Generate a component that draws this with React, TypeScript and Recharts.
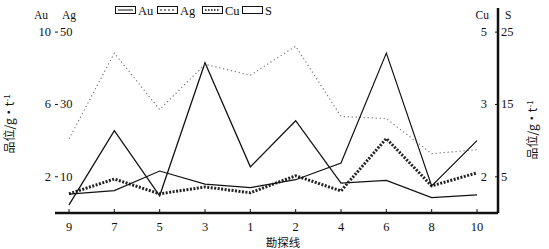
import React from 'react';
import { LineChart, Line, XAxis, YAxis, Legend } from 'recharts';

// 勘探线 order as drawn along the x axis
const lines = ['9', '7', '5', '3', '1', '2', '4', '6', '8', '10'];

const au = [0.45, 4.55, 0.95, 8.3, 2.55, 5.1, 1.65, 1.8, 0.85, 1.0];
const ag = [20.5, 44.2, 28.6, 41.1, 38.1, 46.1, 26.7, 26.1, 16.4, 17.5];
const cu = [0.53, 0.94, 0.53, 0.72, 0.56, 1.03, 0.61, 2.06, 0.75, 1.11];
const s = [2.6, 3.1, 5.8, 4.0, 3.5, 4.6, 6.9, 22.1, 3.75, 10.0];

const auTicks = [2, 6, 10];
const agTickLabels = ['10', '30', '50'];
const cuTicks = [1, 3, 5];
const cuTickLabels = ['2', '3', '5'];
const sTickLabels = ['5', '15', '25'];

const seriesOrder = ['Au', 'Ag', 'Cu', 'S'];

const data = lines.map((name, i) => ({ name, Au: au[i], Ag: ag[i], Cu: cu[i], S: s[i] }));

const W = 549;
const H = 249;
const LEFT = 55;
const RIGHT = 498;
const SERIF = '"Liberation Serif", "DejaVu Serif", serif';
const CJK = '"Noto Sans CJK SC", sans-serif';

const LeftTick = (props: any) => {
  const { y, payload } = props;
  const i = auTicks.indexOf(payload.value);
  return (
    <g fontFamily={SERIF} fontSize={12.5} fill="#111">
      <text x={LEFT - 4} y={y + 4} textAnchor="end">{payload.value}</text>
      <line x1={LEFT} x2={LEFT + 3} y1={y} y2={y} stroke="#111" />
      <text x={LEFT + 5} y={y + 4} textAnchor="start">{agTickLabels[i]}</text>
    </g>
  );
};

const RightTick = (props: any) => {
  const { y, payload } = props;
  const i = cuTicks.indexOf(payload.value);
  return (
    <g fontFamily={SERIF} fontSize={12.5} fill="#111">
      <text x={RIGHT - 11} y={y + 4} textAnchor="end">{cuTickLabels[i]}</text>
      <line x1={RIGHT - 3} x2={RIGHT} y1={y} y2={y} stroke="#111" />
      <text x={RIGHT + 3} y={y + 4} textAnchor="start">{sTickLabels[i]}</text>
    </g>
  );
};

const BottomTick = (props: any) => {
  const { x, y, payload } = props;
  return (
    <g>
      <line x1={x} x2={x} y1={y - 4} y2={y - 1} stroke="#111" />
      <text x={x} y={y + 18} textAnchor="middle" fontFamily={SERIF} fontSize={12.5} fill="#111">
        {payload.value}
      </text>
    </g>
  );
};

const YTitle = ({ x, y }: { x: number; y: number }) => (
  <text
    transform={`translate(${x},${y}) rotate(-90)`}
    textAnchor="middle"
    fontFamily={CJK}
    fontSize={12}
    fill="#111"
  >
    品位/g·t
    <tspan fontSize={8} dy={-4}>-1</tspan>
  </text>
);

const LeftLabel = () => (
  <g fill="#111">
    <text x={48} y={19} textAnchor="end" fontFamily={SERIF} fontSize={11.5}>Au</text>
    <text x={62} y={19} textAnchor="start" fontFamily={SERIF} fontSize={11.5}>Ag</text>
    <YTitle x={14} y={124} />
  </g>
);

const RightLabel = () => (
  <g fill="#111">
    <text x={489} y={19} textAnchor="end" fontFamily={SERIF} fontSize={11.5}>Cu</text>
    <text x={505} y={19} textAnchor="start" fontFamily={SERIF} fontSize={11.5}>S</text>
    <YTitle x={537} y={130} />
  </g>
);

const XTitle = () => (
  <text x={283} y={247} textAnchor="middle" fontFamily={CJK} fontSize={11.5} fill="#111">
    勘探线
  </text>
);

const swatchDash: Record<string, string | undefined> = {
  Au: undefined,
  Ag: '2 2',
  Cu: '1.5 1.5',
  S: undefined,
};

const renderLegend = (props: any) => {
  const payload = [...(props.payload || [])].sort(
    (a: any, b: any) => seriesOrder.indexOf(a.value) - seriesOrder.indexOf(b.value)
  );
  const widths: Record<string, number> = { Au: 42, Ag: 45, Cu: 40, S: 30 };
  let x = 0;
  return (
    <svg width={180} height={16}>
      {payload.map((entry: any) => {
        const key = entry.value as string;
        const x0 = x;
        x += widths[key];
        return (
          <g key={key}>
            <rect x={x0 + 0.5} y={3.5} width={20} height={7} fill="#fff" stroke="#111" />
            {key !== 'S' && (
              <line
                x1={x0 + 3}
                x2={x0 + 18}
                y1={7}
                y2={7}
                stroke="#111"
                strokeWidth={key === 'Cu' ? 1.5 : 1}
                strokeDasharray={swatchDash[key]}
              />
            )}
            <text x={x0 + 23} y={12} fontFamily={SERIF} fontSize={12.5} fill="#111">
              {key}
            </text>
          </g>
        );
      })}
    </svg>
  );
};

export default function App() {
  return (
    <div style={{ position: 'absolute', left: 0, top: 0, width: W, height: H, background: '#fff' }}>
      <LineChart
        width={W}
        height={H}
        data={data}
        margin={{ top: 8, right: 0, left: 0, bottom: 0 }}
      >
        <XAxis
          dataKey="name"
          height={36}
          axisLine={{ stroke: '#111', strokeWidth: 2.5 }}
          tickLine={false}
          tickSize={0}
          tickMargin={0}
          tick={<BottomTick />}
          interval={0}
          padding={{ left: 14, right: 21 }}
          label={<XTitle />}
        />
        <YAxis
          yAxisId="au"
          orientation="left"
          width={LEFT}
          domain={[0, 11.33]}
          ticks={auTicks}
          allowDataOverflow
          axisLine={{ stroke: '#111', strokeWidth: 2.5 }}
          tickLine={false}
          tick={<LeftTick />}
          label={<LeftLabel />}
        />
        <YAxis yAxisId="ag" hide domain={[0, 56.67]} allowDataOverflow />
        <YAxis
          yAxisId="cu"
          orientation="right"
          width={W - RIGHT}
          domain={[0, 5.667]}
          ticks={cuTicks}
          allowDataOverflow
          axisLine={{ stroke: '#111', strokeWidth: 2.5 }}
          tickLine={false}
          tick={<RightTick />}
          label={<RightLabel />}
        />
        <YAxis yAxisId="s" orientation="right" hide domain={[0, 28.33]} allowDataOverflow />
        <Legend
          layout="horizontal"
          verticalAlign="middle"
          align="center"
          content={renderLegend}
          wrapperStyle={{ top: 3, left: 115, width: 180 }}
        />
        <Line
          yAxisId="au"
          dataKey="Au"
          stroke="#111"
          strokeWidth={1.3}
          dot={false}
          isAnimationActive={false}
        />
        <Line
          yAxisId="ag"
          dataKey="Ag"
          stroke="#777"
          strokeWidth={1.2}
          strokeDasharray="1.2 2.8"
          dot={false}
          isAnimationActive={false}
        />
        <Line
          yAxisId="cu"
          dataKey="Cu"
          stroke="#222"
          strokeWidth={3}
          strokeDasharray="2 1.5"
          dot={false}
          isAnimationActive={false}
        />
        <Line
          yAxisId="s"
          dataKey="S"
          stroke="#111"
          strokeWidth={1.2}
          dot={false}
          isAnimationActive={false}
        />
      </LineChart>
    </div>
  );
}
